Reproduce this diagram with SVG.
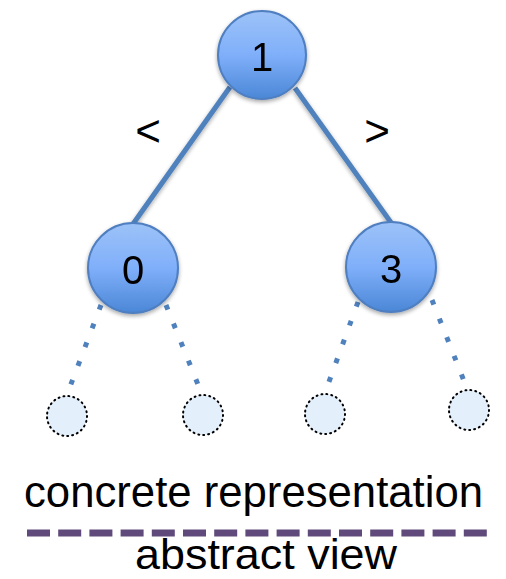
<svg xmlns="http://www.w3.org/2000/svg" width="506" height="579" viewBox="0 0 506 579">
  <defs>
    <linearGradient id="nodeFill" x1="0" y1="0" x2="0" y2="1">
      <stop offset="0" stop-color="#9cc2f7"/>
      <stop offset="0.5" stop-color="#80affa"/>
      <stop offset="1" stop-color="#4a87d6"/>
    </linearGradient>
    <filter id="shadow" x="-20%" y="-20%" width="140%" height="150%">
      <feGaussianBlur in="SourceAlpha" stdDeviation="2"/>
      <feOffset dx="0" dy="2" result="b"/>
      <feComponentTransfer><feFuncA type="linear" slope="0.35"/></feComponentTransfer>
      <feMerge><feMergeNode/><feMergeNode in="SourceGraphic"/></feMerge>
    </filter>
    <style>
      .node circle { fill: url(#nodeFill); stroke: #4f7fc0; stroke-width: 2; }
      .node text { font-family: "Liberation Sans", Arial, sans-serif; font-size: 40px; fill: #000; text-anchor: middle; }
      .leaf circle { fill: #e3f0fc; stroke: #000; stroke-width: 2; stroke-dasharray: 1 4; stroke-linecap: round; }
      .edge { stroke: #4f81bd; stroke-width: 5; fill: none; }
      .stub { stroke: #4f81bd; stroke-width: 5; fill: none; stroke-dasharray: 5 15; }
      .lbl { font-family: "Liberation Sans", Arial, sans-serif; fill: #000; }
    </style>
  </defs>

  <!-- connectors -->
  <g id="connectors">
    <line class="edge" x1="230" y1="87" x2="133" y2="224" filter="url(#shadow)"/>
    <line class="edge" x1="295" y1="88" x2="392" y2="224" filter="url(#shadow)"/>
    <line class="stub" x1="101" y1="305" x2="68" y2="392"/>
    <line class="stub" x1="166" y1="305" x2="201" y2="392"/>
    <line class="stub" x1="358" y1="302" x2="326" y2="390"/>
    <line class="stub" x1="432" y1="300" x2="466" y2="386"/>
  </g>

  <!-- edge labels -->
  <text class="lbl" x="148" y="146" font-size="44" text-anchor="middle">&lt;</text>
  <text class="lbl" x="377" y="146" font-size="44" text-anchor="middle">&gt;</text>

  <!-- tree nodes -->
  <g id="node-1" class="node" filter="url(#shadow)">
    <circle cx="262" cy="55" r="44"/>
    <text x="262" y="71">1</text>
  </g>
  <g id="node-0" class="node" filter="url(#shadow)">
    <circle cx="133" cy="268" r="45"/>
    <text x="133" y="284">0</text>
  </g>
  <g id="node-3" class="node" filter="url(#shadow)">
    <circle cx="391" cy="267" r="45"/>
    <text x="391" y="283">3</text>
  </g>

  <!-- empty leaves -->
  <g id="leaf-0l" class="leaf"><circle cx="67" cy="416" r="20"/></g>
  <g id="leaf-0r" class="leaf"><circle cx="203" cy="415" r="20"/></g>
  <g id="leaf-3l" class="leaf"><circle cx="325" cy="414" r="20"/></g>
  <g id="leaf-3r" class="leaf"><circle cx="469" cy="410" r="20"/></g>

  <!-- separator between the two levels -->
  <text class="lbl" x="24" y="507" font-size="44" textLength="459" lengthAdjust="spacingAndGlyphs">concrete representation</text>
  <line x1="27" y1="533" x2="487" y2="533" stroke="#604a7b" stroke-width="7" stroke-dasharray="23 8.2"/>
  <text class="lbl" x="135" y="569" font-size="42" textLength="262" lengthAdjust="spacingAndGlyphs">abstract  view</text>
</svg>
